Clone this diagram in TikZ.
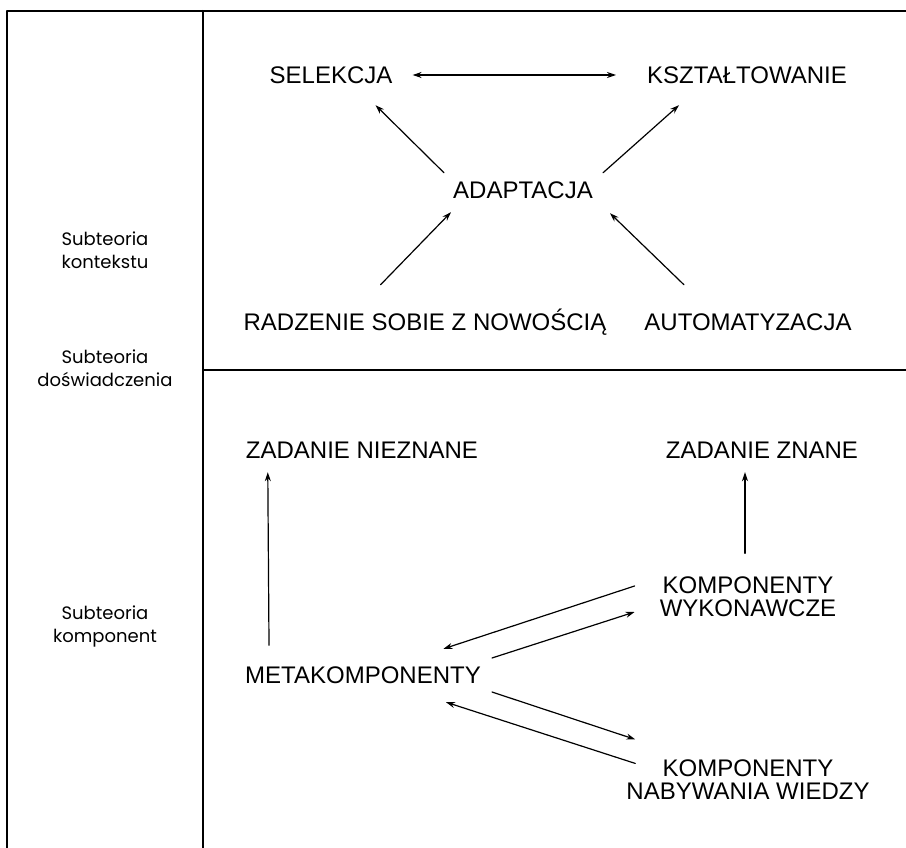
\documentclass[tikz,border=0pt]{standalone}
\usepackage{fontspec}
\setmainfont{Liberation Sans}
\newfontfamily\sidefont{Poppins}
\usetikzlibrary{arrows.meta,calc}

\begin{document}
\begin{tikzpicture}[x=1pt,y=-1pt,>={Stealth[length=9pt,width=6pt]},
		line join=round,line cap=round,font=\fontsize{24}{23}\selectfont,
		lbl/.style={inner sep=0pt,text height=17pt,text depth=0pt},
		lbltwo/.style={inner sep=0pt,align=center},
		side/.style={inner sep=0pt,align=center,font=\sidefont\fontsize{18}{23}\selectfont},
		arr/.style={->,line width=1.2pt},
		frame/.style={line width=2pt}]
	\useasboundingbox (0,0) rectangle (906,848);
	% ramka
	\draw[frame] (906,11)--(7,11)--(7,848);
	\draw[frame] (203,11)--(203,848);
	\draw[frame] (203,370)--(906,370);
	% podpisy z lewej
	\node[side] (kont) at (105,250) {Subteoria\\kontekstu};
	\node[side] (dosw) at (105,368) {Subteoria\\doświadczenia};
	\node[side] (komp) at (105,626) {Subteoria\\komponent};
	% gorna czesc
	\node[lbl] (sel) at (331,75) {SELEKCJA};
	\node[lbl] (ksz) at (747,75) {KSZTAŁTOWANIE};
	\node[lbl] (adapt) at (523,190) {ADAPTACJA};
	\node[lbl] (rad) at (425,322) {RADZENIE SOBIE Z NOWOŚCIĄ};
	\node[lbl] (aut) at (748,322) {AUTOMATYZACJA};
	\draw[arr,<->] ($(sel.east)+(20,0)$)--($(ksz.west)+(-31,0)$);
	\draw[arr] ($(adapt.north west)+(-9,-8.5)$)--($(sel.south east)+(-17,21.5)$);
	\draw[arr] ($(adapt.north east)+(10,-8.5)$)--($(ksz.south west)+(32,21.5)$);
	\draw[arr] ($(rad.north)+(-44.5,-28.5)$)--($(adapt.south west)+(-2,13.5)$);
	\draw[arr] ($(aut.north)+(-64,-28.5)$)--($(adapt.south east)+(17,14.5)$);
	% dolna czesc
	\node[lbl] (zn) at (362,450) {ZADANIE NIEZNANE};
	\node[lbl] (zz) at (762,450) {ZADANIE ZNANE};
	\node[lbltwo] (kw) at (748,596.5) {KOMPONENTY\\WYKONAWCZE};
	\node[lbl] (meta) at (363,675) {METAKOMPONENTY};
	\node[lbltwo] (kn) at (748,780) {KOMPONENTY\\NABYWANIA WIEDZY};
	\draw[arr] ($(meta.north west)+(24,-21)$)--($(zn.south west)+(22,13.5)$);
	\draw[arr] ($(kw.north)+(-3,-23)$)--($(zz.south)+(-17,13.5)$);
	\draw[arr] ($(kw.west)+(-25,-10.5)$)--($(meta.north east)+(-37.5,-17.5)$);
	\draw[arr] ($(meta.east)+(11,-17)$)--($(kw.west)+(-25,15.5)$);
	\draw[arr] ($(meta.east)+(11,17)$)--($(kn.north west)+(9,-20.5)$);
	\draw[arr] ($(kn.north west)+(9,3.5)$)--($(meta.south east)+(-35,18.5)$);
\end{tikzpicture}
\end{document}
